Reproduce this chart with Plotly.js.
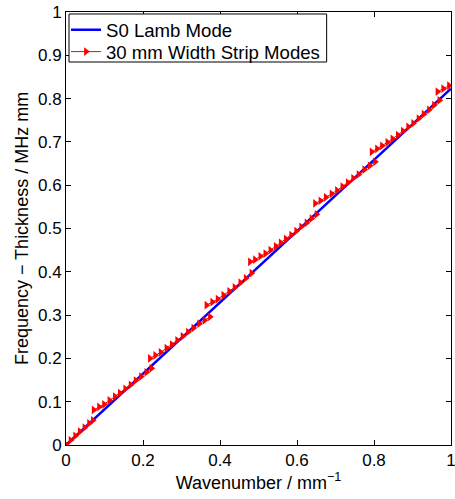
<!DOCTYPE html>
<html>
<head>
<meta charset="utf-8">
<script src="https://cdn.plot.ly/plotly-3.0.1.min.js"></script>
<style>
html,body{margin:0;padding:0;background:#fff;}
#chart{width:455px;height:499px;}
</style>
</head>
<body>
<div id="chart"></div>
<script>
// S0 Lamb mode
const lambX = [0, 0.25, 0.5, 0.75, 1.0];
const lambY = [0, 0.206, 0.411, 0.617, 0.823];

// 30 mm width strip modes (branches)
const seg1X = [0, 0.012, 0.024, 0.036, 0.048, 0.060, 0.070];
const seg1Y = [0, 0.011, 0.021, 0.031, 0.040, 0.050, 0.057];
const seg2X = [0.072, 0.086, 0.099, 0.113, 0.127, 0.140, 0.154, 0.168, 0.181, 0.195, 0.209, 0.222];
const seg2Y = [0.081, 0.088, 0.094, 0.103, 0.112, 0.120, 0.130, 0.139, 0.149, 0.158, 0.168, 0.177];
const seg3X = [0.218, 0.232, 0.246, 0.261, 0.275, 0.289, 0.303, 0.317, 0.331, 0.346, 0.360, 0.374];
const seg3Y = [0.200, 0.207, 0.214, 0.224, 0.232, 0.242, 0.251, 0.261, 0.270, 0.280, 0.288, 0.296];
const seg4X = [0.365, 0.380, 0.394, 0.409, 0.424, 0.438, 0.453, 0.467, 0.482];
const seg4Y = [0.323, 0.330, 0.337, 0.346, 0.355, 0.364, 0.375, 0.385, 0.397];
const seg5X = [0.478, 0.491, 0.505, 0.518, 0.531, 0.545, 0.558, 0.571, 0.585, 0.598, 0.611, 0.625, 0.638, 0.651];
const seg5Y = [0.423, 0.428, 0.436, 0.442, 0.450, 0.459, 0.467, 0.476, 0.485, 0.494, 0.504, 0.513, 0.523, 0.533];
const seg6X = [0.647, 0.661, 0.675, 0.690, 0.704, 0.718, 0.732, 0.746, 0.760, 0.775, 0.789, 0.803];
const seg6Y = [0.558, 0.564, 0.572, 0.580, 0.588, 0.597, 0.606, 0.616, 0.625, 0.636, 0.645, 0.654];
const seg7X = [0.794, 0.808, 0.821, 0.835, 0.848, 0.862, 0.875, 0.889, 0.902, 0.916, 0.929, 0.943, 0.956, 0.970];
const seg7Y = [0.677, 0.684, 0.691, 0.699, 0.707, 0.716, 0.725, 0.735, 0.743, 0.754, 0.764, 0.774, 0.785, 0.796];
const seg8X = [0.965, 0.980, 0.995];
const seg8Y = [0.816, 0.823, 0.830];

const xTicks = [0, 0.2, 0.4, 0.6, 0.8, 1];
const xTickText = ['0', '0.2', '0.4', '0.6', '0.8', '1'];
const yTicks = [0, 0.1, 0.2, 0.3, 0.4, 0.5, 0.6, 0.7, 0.8, 0.9, 1];
const yTickText = ['0', '0.1', '0.2', '0.3', '0.4', '0.5', '0.6', '0.7', '0.8', '0.9', '1'];

const segsX = [seg1X, seg2X, seg3X, seg4X, seg5X, seg6X, seg7X, seg8X];
const segsY = [seg1Y, seg2Y, seg3Y, seg4Y, seg5Y, seg6Y, seg7Y, seg8Y];
let stripX = [], stripY = [];
segsX.forEach((sx, i) => {
  if (i > 0) { stripX.push(null); stripY.push(null); }
  stripX = stripX.concat(sx);
  stripY = stripY.concat(segsY[i]);
});

const fam = '"Liberation Sans", Arial, Helvetica, sans-serif';
const tickFont = {family: fam, size: 17, color: '#000'};
const titleFont = {family: fam, size: 18, color: '#000'};
const legendFont = {family: fam, size: 18.6, color: '#000'};

const traces = [
  {x: lambX, y: lambY, mode: 'lines', name: 'S0 Lamb Mode', legend: 'legend',
   line: {color: '#0000ff', width: 2.5}},
  {x: stripX, y: stripY, mode: 'lines+markers', name: '30 mm Width Strip Modes',
   legend: 'legend2', connectgaps: false,
   line: {color: '#ff0000', width: 1},
   marker: {symbol: 'triangle-right', size: 7.5, color: '#ff0000'}}
];

const axisCommon = {
  showgrid: false, zeroline: false, showline: true, mirror: 'ticks',
  linecolor: '#000', linewidth: 1, ticks: 'inside', ticklen: 5,
  tickcolor: '#000', tickwidth: 1, tickfont: tickFont,
  ticklabeloverflow: 'allow', automargin: false
};

const legendCommon = {
  xanchor: 'left', yanchor: 'middle', bgcolor: 'rgba(0,0,0,0)',
  borderwidth: 0, font: legendFont, itemwidth: 30
};

const layout = {
  width: 455, height: 499,
  margin: {l: 66, r: 4, t: 12, b: 54},
  paper_bgcolor: '#fff', plot_bgcolor: '#fff',
  font: tickFont,
  showlegend: true,
  legend: Object.assign({}, legendCommon, {x: 0.0, y: 0.958}),
  legend2: Object.assign({}, legendCommon, {x: 0.0, y: 0.9076}),
  shapes: [{type: 'rect', xref: 'paper', yref: 'paper',
            x0: 0.0078, x1: 0.677, y0: 0.8845, y1: 0.9954,
            line: {color: '#000', width: 1}, fillcolor: '#fff', layer: 'above'}],
  xaxis: Object.assign({}, axisCommon, {
    range: [0, 1], tickvals: xTicks, ticktext: xTickText,
    title: {text: 'Wavenumber / mm<sup>−1</sup>', font: titleFont, standoff: 2}
  }),
  yaxis: Object.assign({}, axisCommon, {
    range: [0, 1], tickvals: yTicks, ticktext: yTickText,
    title: {text: 'Frequency − Thickness / MHz mm', font: titleFont, standoff: 4}
  })
};

Plotly.newPlot('chart', traces, layout, {staticPlot: true, displayModeBar: false});
</script>
</body>
</html>
